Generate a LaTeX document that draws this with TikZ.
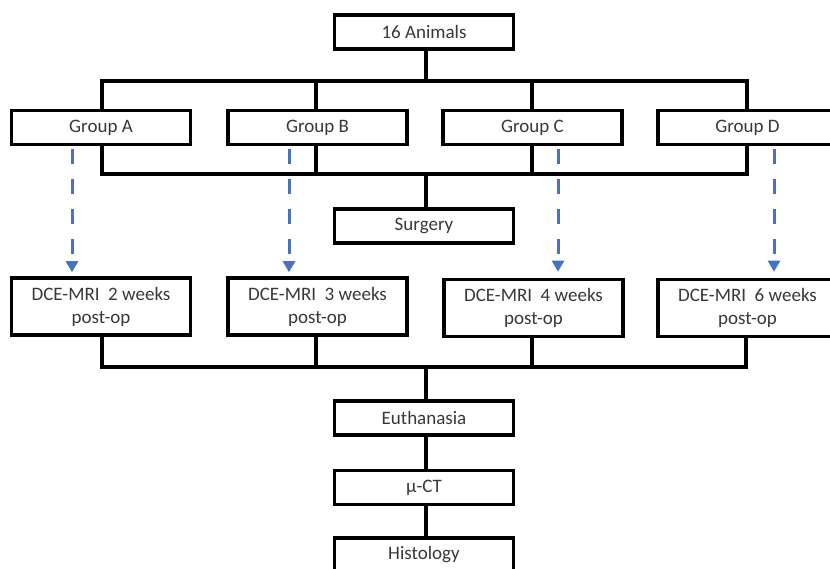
\documentclass[tikz,border=0pt]{standalone}
\usepackage{fontspec}
\setmainfont{Carlito}
\usetikzlibrary{arrows.meta}
\definecolor{txt}{HTML}{383838}
\definecolor{dblue}{HTML}{4472C4}
\tikzset{
  box/.style={draw=black, line width=3.6pt, fill=white, minimum width=179pt, minimum height=34pt,
    inner sep=0pt, align=center, font=\fontsize{19}{23}\selectfont, text=txt},
  tallbox/.style={box, minimum height=57pt},
  conn/.style={draw=black, line width=3.6pt},
  dasharrow/.style={draw=dblue, line width=3pt, dash pattern=on 15pt off 15pt,
    -{Triangle[width=12pt,length=11pt]}}
}
\begin{document}
\begin{tikzpicture}[x=1pt,y=-1pt]
\clip (0,0) rectangle (830,569);
\fill[white] (0,0) rectangle (830,569);
% bus coordinates
\coordinate (bus1) at (426,81);
\coordinate (bus2) at (426,174);
\coordinate (bus3) at (426,367);
% nodes
\node[box] (animals) at (424,32) {16 Animals};
\node[box] (gA) at (101,127.5) {Group A};
\node[box] (gB) at (317.5,127.5) {Group B};
\node[box] (gC) at (532.5,127.5) {Group C};
\node[box] (gD) at (747.5,127.5) {Group D};
\node[box] (surgery) at (424,226) {Surgery};
\node[tallbox] (dA) at (101,306.5) {DCE-MRI\ \ 2 weeks\\post-op};
\node[tallbox] (dB) at (317.5,306.5) {DCE-MRI\ \ 3 weeks\\post-op};
\node[tallbox] (dC) at (533.5,308) {DCE-MRI\ \ 4 weeks\\post-op};
\node[tallbox] (dD) at (747.5,308) {DCE-MRI\ \ 6 weeks\\post-op};
\node[box] (euth) at (424,418) {Euthanasia};
\node[box] (ct) at (424,487.5) {μ-CT};
\node[box] (histo) at (424,555) {Histology};
% top fan-out
\draw[conn] (animals.south -| bus1) -- (bus1);
\draw[conn] (gA.north -| 102,0) |- (bus1) -| (gD.north -| 747,0);
\draw[conn] (gB.north -| 316,0) -- (316,81);
\draw[conn] (gC.north -| 532,0) -- (532,81);
% groups to surgery
\draw[conn] (gA.south -| 102,0) |- (bus2) -| (gD.south -| 747,0);
\draw[conn] (gB.south -| 316,0) -- (316,174);
\draw[conn] (gC.south -| 532,0) -- (532,174);
\draw[conn] (bus2) -- (surgery.north -| bus2);
% DCE to euthanasia
\draw[conn] (dA.south -| 102,0) |- (bus3) -| (dD.south -| 746,0);
\draw[conn] (dB.south -| 316,0) -- (316,367);
\draw[conn] (dC.south -| 532,0) -- (532,367);
\draw[conn] (bus3) -- (euth.north -| bus3);
\draw[conn] (euth.south -| bus3) -- (ct.north -| bus3);
\draw[conn] (ct.south -| bus3) -- (histo.north -| bus3);
% dashed arrows
\draw[dasharrow] ([xshift=-29pt,yshift=-3pt]gA.south) -- ([xshift=-29pt,yshift=4pt]dA.north);
\draw[dasharrow] ([xshift=-28.5pt,yshift=-3pt]gB.south) -- ([xshift=-28.5pt,yshift=4pt]dB.north);
\draw[dasharrow] ([xshift=25.5pt,yshift=-3pt]gC.south) -- ([xshift=24.5pt,yshift=6pt]dC.north);
\draw[dasharrow] ([xshift=26.5pt,yshift=-3pt]gD.south) -- ([xshift=26.5pt,yshift=6pt]dD.north);
\end{tikzpicture}
\end{document}
